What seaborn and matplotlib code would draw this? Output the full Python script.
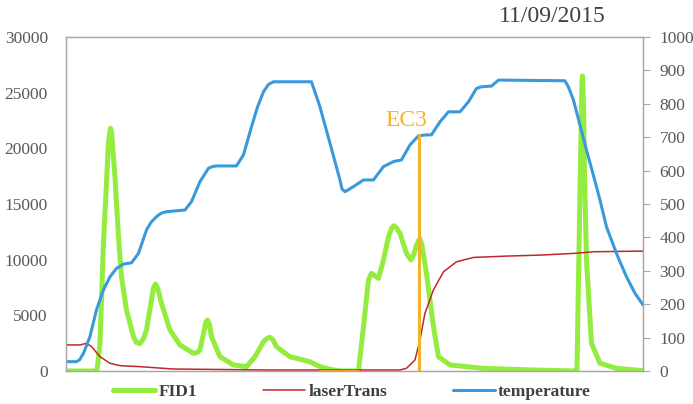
import matplotlib
matplotlib.use("Agg")
import matplotlib.pyplot as plt
import seaborn as sns
import pandas as pd

# 时间轴（任意单位，读图估算）
fid_time = [0, 62, 68, 75, 85, 88, 89, 91, 98, 105, 111, 121, 135, 141, 148, 155, 161, 171, 175,
            179, 184, 191, 208, 228, 255, 262, 268, 278, 280, 283, 287, 291, 308, 335, 361, 378,
            395, 402, 408, 414, 421, 448, 488, 508, 528, 548, 585, 595, 605, 611, 625, 635, 645,
            652, 656, 661, 668, 681, 690, 696, 700, 705, 708, 712, 721, 735, 745, 768, 834, 934,
            1018, 1022, 1028, 1032, 1033, 1035, 1037, 1041, 1051, 1068, 1101, 1154]
fid_value = [0, 0, 2500, 11500, 20500, 21600, 21800, 21500, 17450, 12060, 8470, 5480, 3080, 2550,
             2450, 2900, 3680, 6380, 7450, 7810, 7350, 6080, 3680, 2330, 1590, 1650, 1890, 3980,
             4400, 4580, 4150, 3080, 1280, 540, 390, 1280, 2630, 2920, 3030, 2800, 2180, 1280,
             830, 390, 150, 0, 0, 3980, 8170, 8770, 8320, 9970, 12060, 12900, 13050, 12850,
             12360, 10570, 9970, 10500, 11160, 11700, 11900, 11300, 8770, 3980, 1280, 540, 240,
             90, 0, 0, 16000, 26000, 26500, 24000, 18000, 9970, 2490, 690, 240, 30]

laser_time = [0, 28, 41, 51, 68, 88, 108, 148, 214, 401, 668, 681, 698, 708, 718, 735, 755, 781,
              815, 881, 948, 1015, 1055, 1154]
laser_value = [78, 78, 83, 73, 43, 23, 16, 13, 6, 3, 3, 8, 33, 93, 173, 243, 297, 327, 340, 344,
               347, 352, 357, 359]

temp_time = [0, 21, 27, 35, 48, 61, 75, 88, 101, 115, 123, 131, 145, 161, 170, 181, 190, 201, 238,
             251, 268, 285, 293, 301, 341, 355, 371, 383, 395, 405, 415, 491, 508, 528, 548, 552,
             558, 565, 575, 595, 615, 635, 655, 671, 688, 705, 721, 731, 748, 765, 788, 805, 821,
             831, 851, 865, 998, 1005, 1015, 1041, 1061, 1068, 1081, 1101, 1121, 1138, 1154]
temp_value = [28, 28, 33, 53, 103, 183, 243, 282, 307, 320, 322, 324, 352, 422, 445, 462, 472,
              477, 482, 507, 567, 607, 612, 614, 614, 647, 731, 790, 836, 858, 866, 866, 791, 682,
              572, 545, 537, 543, 552, 572, 572, 612, 627, 632, 677, 704, 707, 707, 746, 776, 776,
              806, 846, 851, 853, 871, 869, 850, 811, 662, 552, 512, 432, 352, 282, 233, 198]

ec3_time = [707, 707]
ec3_value = [0, 707]
ec3_base_time = [508, 585]
ec3_base_value = [0, 0]

title_text = "11/09/2015"
ec3_label = "EC3"

sns.set_theme(style="white")
plt.rcParams['font.family'] = ['Liberation Serif', 'DejaVu Serif']

GREEN = "#93EC3E"
RED = "#C0262C"
BLUE = "#3A99DB"
ORANGE = "#F2B52A"
GRAY = "#A6A6A6"
TEXT = "#595959"

fig = plt.figure(figsize=(6.93, 4.04), dpi=100)
ax = fig.add_axes([0.0952, 0.0817, 0.8326, 0.8267])
ax2 = ax.twinx()

df_fid = pd.DataFrame({"time": fid_time, "FID1": fid_value})
df_laser = pd.DataFrame({"time": laser_time, "laserTrans": laser_value})
df_temp = pd.DataFrame({"time": temp_time, "temperature": temp_value})

sns.lineplot(data=df_fid, x="time", y="FID1", ax=ax, color=GREEN, linewidth=3.6,
             estimator=None, sort=False, solid_joinstyle="round")
sns.lineplot(data=df_laser, x="time", y="laserTrans", ax=ax2, color=RED, linewidth=1.1,
             estimator=None, sort=False)
sns.lineplot(data=df_temp, x="time", y="temperature", ax=ax2, color=BLUE, linewidth=2.2,
             estimator=None, sort=False, solid_joinstyle="round")
ax2.plot(ec3_base_time, ec3_base_value, color=ORANGE, linewidth=2.0)
ax2.plot(ec3_time, ec3_value, color=ORANGE, linewidth=2.2)
ax2.text(681, 751, ec3_label, color=ORANGE, fontsize=17, ha="center", va="center")

ax.set_xlim(0, 1154)
ax.set_ylim(0, 30000)
ax2.set_ylim(0, 1000)
ax.set_yticks(range(0, 30001, 5000))
ax2.set_yticks(range(0, 1001, 100))
ax.set_xticks([])
ax.set_xlabel("")
ax.set_ylabel("")
ax2.set_ylabel("")

ax.tick_params(axis="y", length=0, pad=13, labelsize=12.5, labelcolor=TEXT)
ax2.tick_params(axis="y", direction="out", length=5, width=0.8, color=GRAY, pad=7,
                labelsize=12.5, labelcolor=TEXT)
for a in (ax, ax2):
    for s in a.spines.values():
        s.set_color(GRAY)
        s.set_linewidth(0.9)

fig.text(0.797, 0.958, title_text, fontsize=17, color="#404040", ha="center", va="center")

handles = [ax.lines[0], ax2.lines[0], ax2.lines[1]]
labels = ["FID1", "laserTrans", "temperature"]
fig.legend(handles, labels, loc="center", bbox_to_anchor=(0.508, 0.03), ncol=3, frameon=False,
           handlelength=2.4, handletextpad=0.2, columnspacing=3.8,
           prop={"size": 12.5, "weight": "bold"}, labelcolor="#404040")

fig.savefig("out.png", dpi=100)
